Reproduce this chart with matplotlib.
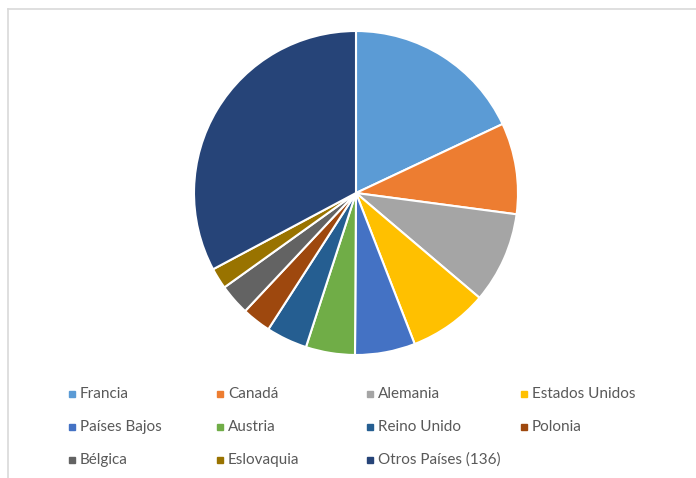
import matplotlib
matplotlib.use("Agg")
import matplotlib.pyplot as plt
from matplotlib.lines import Line2D

countries = ["Francia", "Canadá", "Alemania", "Estados Unidos", "Países Bajos",
             "Austria", "Reino Unido", "Polonia", "Bélgica", "Eslovaquia",
             "Otros Países (136)"]
shares = [18.0, 9.1, 9.1, 7.9, 6.0, 4.9, 4.1, 2.9, 3.1, 2.1, 32.8]
colors = ["#5B9BD5", "#ED7D31", "#A5A5A5", "#FFC000", "#4472C4", "#70AD47",
          "#255E91", "#9E480E", "#636363", "#997300", "#264478"]

W, H = 696, 478
fig = plt.figure(figsize=(W / 100, H / 100), dpi=100)
fig.patch.set_facecolor("white")

# chart-area border (top and left visible)
fig.add_artist(Line2D([8 / W, 1], [1 - 9 / H, 1 - 9 / H], color="#D9D9D9", lw=1.2))
fig.add_artist(Line2D([8 / W, 8 / W], [1 - 9 / H, 0], color="#D9D9D9", lw=1.2))

cx, cy, r = 356, 193, 162
ax = fig.add_axes([(cx - r) / W, 1 - (cy + r) / H, 2 * r / W, 2 * r / H])
ax.pie(shares, colors=colors, startangle=90, counterclock=False, radius=1,
       wedgeprops=dict(edgecolor="white", linewidth=1.5))
ax.set_xlim(-1, 1)
ax.set_ylim(-1, 1)
ax.set_aspect("equal")
ax.axis("off")

# legend laid out row-major in 4 columns
col_x = [72, 220, 370, 524]
row_y = [394, 427, 460]
for i, (name, col) in enumerate(zip(countries, colors)):
    rr, cc = divmod(i, 4)
    x, y = col_x[cc], row_y[rr]
    fig.add_artist(Line2D([x / W], [1 - y / H], marker="s", markersize=4.5,
                          linestyle="none", markerfacecolor=col, markeredgecolor=col))
    fig.text((x + 8) / W, 1 - y / H, name, fontsize=11, family=["Lato", "DejaVu Sans"],
             color="#595959", va="center", ha="left")

fig.savefig("out.png", dpi=100, facecolor="white")
